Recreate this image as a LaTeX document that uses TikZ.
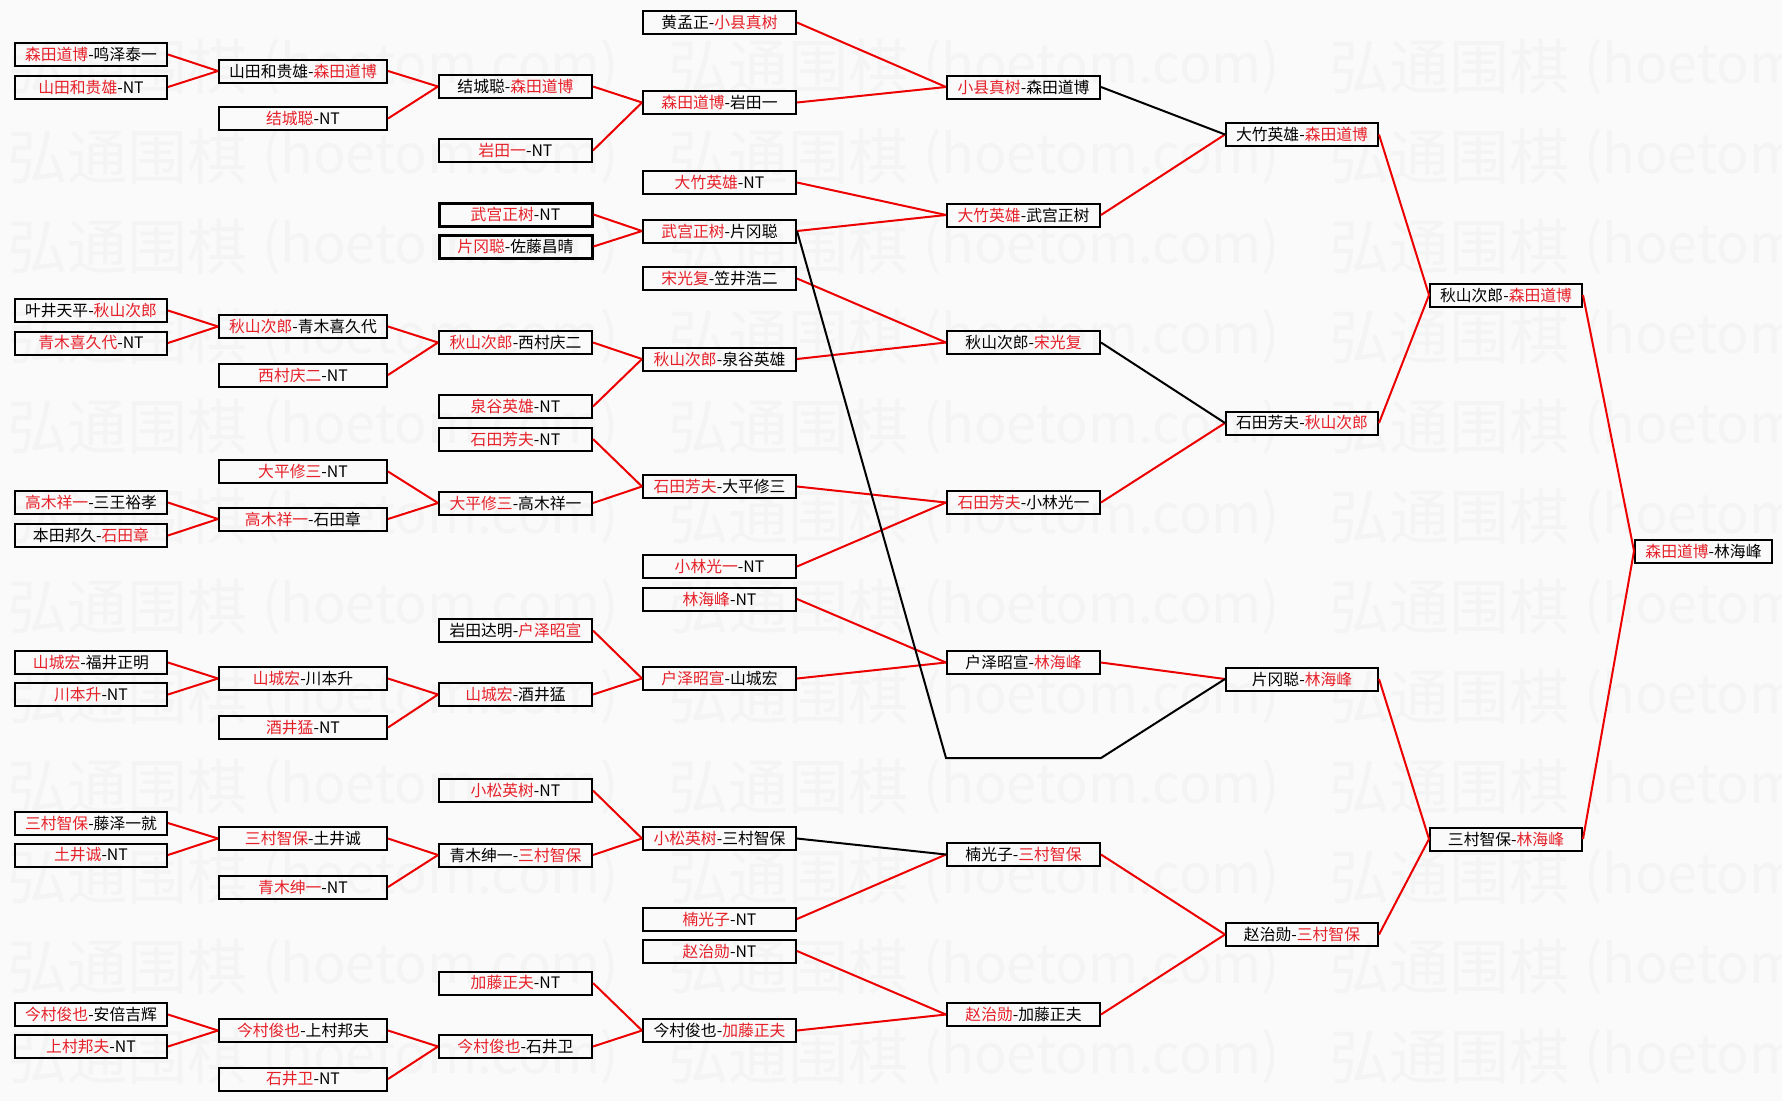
\documentclass[tikz,border=0pt]{standalone}
\usepackage{fontspec}
\newfontfamily\cjk{Noto Sans CJK SC}
\definecolor{wr}{RGB}{230,32,40}
\definecolor{lr}{RGB}{236,0,0}
\definecolor{bgc}{RGB}{250,250,250}
\definecolor{wmc}{RGB}{244,244,244}
\newcommand\rn[1]{\textcolor{wr}{#1}}
\begin{document}
\begin{tikzpicture}[x=1pt,y=-1pt,
  bx/.style={draw=black,line width=2pt,minimum height=23pt,inner sep=0pt,
    font=\cjk\fontsize{15.8}{17}\selectfont},
  c0/.style={bx,minimum width=152pt},
  c1/.style={bx,minimum width=168pt},
  c2/.style={bx,minimum width=153pt},
  c7/.style={bx,minimum width=137pt},
  thk/.style={line width=3pt},
  wmk/.style={text=wmc,inner sep=0pt,anchor=west,font=\cjk\fontsize{60}{60}\selectfont},
  wml/.style={text=wmc,inner sep=0pt,anchor=west,font=\cjk\fontsize{54}{60}\selectfont},
  rl/.style={draw=lr,line width=2pt},
  bl/.style={draw=black,line width=2pt}]
\fill[bgc] (0,0) rectangle (1782,1101);
\useasboundingbox (0,0) rectangle (1782,1101);
% watermark
\foreach \r in {0,...,11}{
  \foreach \c in {0,1,2}{
    \node[wmk] (wa\r\c) at ({7+661*\c},{67+90*\r}) {弘通围棋};
    \node[wml] (wb\r\c) at ({7+661*\c+255},{67+90*\r}) {(hoetom.com)};
  }
}
% column 0
\node[c0] (A1) at (91,54.5) {\rn{森田道博}-鸣泽泰一};
\node[c0] (A2) at (91,87) {\rn{山田和贵雄}-NT};
\node[c0] (A3) at (91,310.5) {叶井天平-\rn{秋山次郎}};
\node[c0] (A4) at (91,343) {\rn{青木喜久代}-NT};
\node[c0] (A5) at (91,502.5) {\rn{高木祥一}-三王裕孝};
\node[c0] (A6) at (91,535.5) {本田邦久-\rn{石田章}};
\node[c0] (A7) at (91,662.5) {\rn{山城宏}-福井正明};
\node[c0] (A8) at (91,694.5) {\rn{川本升}-NT};
\node[c0] (A9) at (91,823) {\rn{三村智保}-藤泽一就};
\node[c0] (A10) at (91,855) {\rn{土井诚}-NT};
\node[c0] (A11) at (91,1014.5) {\rn{今村俊也}-安倍吉辉};
\node[c0] (A12) at (91,1046.5) {\rn{上村邦夫}-NT};
% column 1
\node[c1] (B1) at (303,71) {山田和贵雄-\rn{森田道博}};
\node[c1] (B2) at (303,118.5) {\rn{结城聪}-NT};
\node[c1] (B3) at (303,326.5) {\rn{秋山次郎}-青木喜久代};
\node[c1] (B4) at (303,375) {\rn{西村庆二}-NT};
\node[c1] (B5) at (303,471.5) {\rn{大平修三}-NT};
\node[c1] (B6) at (303,519) {\rn{高木祥一}-石田章};
\node[c1] (B7) at (303,678.5) {\rn{山城宏}-川本升};
\node[c1] (B8) at (303,727.5) {\rn{酒井猛}-NT};
\node[c1] (B9) at (303,838.5) {\rn{三村智保}-土井诚};
\node[c1] (B10) at (303,887) {\rn{青木绅一}-NT};
\node[c1] (B11) at (303,1030.5) {\rn{今村俊也}-上村邦夫};
\node[c1] (B12) at (303,1079) {\rn{石井卫}-NT};
% column 2
\node[c2] (C1) at (515.5,86.5) {结城聪-\rn{森田道博}};
\node[c2] (C2) at (515.5,150.5) {\rn{岩田一}-NT};
\node[c2,thk] (C3) at (515.5,214.5) {\rn{武宫正树}-NT};
\node[c2,thk] (C4) at (515.5,246.5) {\rn{片冈聪}-佐藤昌晴};
\node[c2] (C5) at (515.5,342.5) {\rn{秋山次郎}-西村庆二};
\node[c2] (C6) at (515.5,406.5) {\rn{泉谷英雄}-NT};
\node[c2] (C7) at (515.5,439) {\rn{石田芳夫}-NT};
\node[c2] (C8) at (515.5,503) {\rn{大平修三}-高木祥一};
\node[c2] (C9) at (515.5,630.5) {岩田达明-\rn{户泽昭宣}};
\node[c2] (C10) at (515.5,694.5) {\rn{山城宏}-酒井猛};
\node[c2] (C11) at (515.5,790.5) {\rn{小松英树}-NT};
\node[c2] (C12) at (515.5,855) {青木绅一-\rn{三村智保}};
\node[c2] (C13) at (515.5,983) {\rn{加藤正夫}-NT};
\node[c2] (C14) at (515.5,1046.5) {\rn{今村俊也}-石井卫};
% column 3
\node[c2] (D1) at (719.5,22.5) {黄孟正-\rn{小县真树}};
\node[c2] (D2) at (719.5,102.5) {\rn{森田道博}-岩田一};
\node[c2] (D3) at (719.5,182.5) {\rn{大竹英雄}-NT};
\node[c2] (D4) at (719.5,231) {\rn{武宫正树}-片冈聪};
\node[c2] (D5) at (719.5,278.5) {\rn{宋光复}-笠井浩二};
\node[c2] (D6) at (719.5,359) {\rn{秋山次郎}-泉谷英雄};
\node[c2] (D7) at (719.5,486.5) {\rn{石田芳夫}-大平修三};
\node[c2] (D8) at (719.5,566.5) {\rn{小林光一}-NT};
\node[c2] (D9) at (719.5,599) {\rn{林海峰}-NT};
\node[c2] (D10) at (719.5,678.5) {\rn{户泽昭宣}-山城宏};
\node[c2] (D11) at (719.5,838.5) {\rn{小松英树}-三村智保};
\node[c2] (D12) at (719.5,919) {\rn{楠光子}-NT};
\node[c2] (D13) at (719.5,951) {\rn{赵治勋}-NT};
\node[c2] (D14) at (719.5,1030.5) {今村俊也-\rn{加藤正夫}};
% column 4
\node[c2] (E1) at (1023.5,87) {\rn{小县真树}-森田道博};
\node[c2] (E2) at (1023.5,215) {\rn{大竹英雄}-武宫正树};
\node[c2] (E3) at (1023.5,342.5) {秋山次郎-\rn{宋光复}};
\node[c2] (E4) at (1023.5,502.5) {\rn{石田芳夫}-小林光一};
\node[c2] (E5) at (1023.5,662.5) {户泽昭宣-\rn{林海峰}};
\node[c2] (E6) at (1023.5,854.5) {楠光子-\rn{三村智保}};
\node[c2] (E7) at (1023.5,1014.5) {\rn{赵治勋}-加藤正夫};
\coordinate (k1) at (946,758);
\coordinate (k2) at (1101,758);
% column 5
\node[c0] (F1) at (1302,134.5) {大竹英雄-\rn{森田道博}};
\node[c0] (F2) at (1302,423) {石田芳夫-\rn{秋山次郎}};
\node[c0] (F3) at (1302,679) {片冈聪-\rn{林海峰}};
\node[c0] (F4) at (1302,934.5) {赵治勋-\rn{三村智保}};
% column 6
\node[c0] (G1) at (1506,295) {秋山次郎-\rn{森田道博}};
\node[c0] (G2) at (1506,839) {三村智保-\rn{林海峰}};
% final
\node[c7] (H) at (1703.5,551) {\rn{森田道博}-林海峰};
% red connectors
\foreach \a/\b in {A1/B1,A2/B1,A3/B3,A4/B3,A5/B6,A6/B6,A7/B7,A8/B7,A9/B9,A10/B9,A11/B11,A12/B11,
  B1/C1,B2/C1,B3/C5,B4/C5,B5/C8,B6/C8,B7/C10,B8/C10,B9/C12,B10/C12,B11/C14,B12/C14,
  C1/D2,C2/D2,C3/D4,C4/D4,C5/D6,C6/D6,C7/D7,C8/D7,C9/D10,C10/D10,C11/D11,C12/D11,C13/D14,C14/D14,
  D1/E1,D2/E1,D3/E2,D4/E2,D5/E3,D6/E3,D7/E4,D8/E4,D9/E5,D10/E5,D12/E6,D13/E7,D14/E7,
  E2/F1,E4/F2,E5/F3,E6/F4,E7/F4,F1/G1,F2/G1,F3/G2,F4/G2,G1/H,G2/H}
  \draw[rl] (\a.east) -- (\b.west);
% black connectors
\foreach \a/\b in {E1/F1,E3/F2,D11/E6}
  \draw[bl] (\a.east) -- (\b.west);
\draw[bl,line join=miter] (D4.east) -- (k1) -- (k2) -- (F3.west);
\end{tikzpicture}
\end{document}
